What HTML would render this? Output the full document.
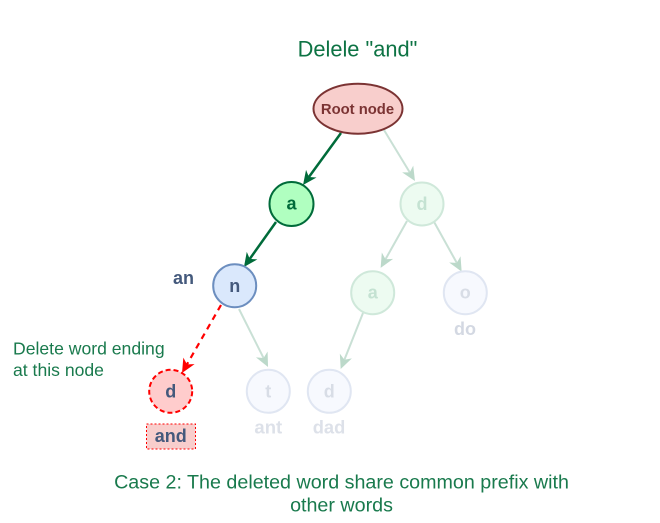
<!DOCTYPE html>
<html>
<head>
<meta charset="utf-8">
<style>
html,body{margin:0;padding:0;background:#fff;width:660px;height:523px;overflow:hidden}
svg{display:block}
text{font-family:"Liberation Sans",Arial,sans-serif}
.b{font-weight:bold;font-size:18px;text-anchor:middle}
.g{fill:#006b3a;fill-opacity:.9;font-size:17.600px}
</style>
</head>
<body>
<svg width="660" height="523" viewBox="0 0 660 523" xmlns="http://www.w3.org/2000/svg">
<defs>
<marker id="mf" markerUnits="userSpaceOnUse" viewBox="-13 -8 18 16" refX="0" refY="0" markerWidth="18" markerHeight="16" orient="auto"><path d="M3 0L-11 -6.500L-7 0L-11 6.500Z" fill="#bcd9ca"/></marker>
<marker id="mg" markerUnits="userSpaceOnUse" viewBox="-13 -8 18 16" refX="0" refY="0" markerWidth="18" markerHeight="16" orient="auto"><path d="M3 0L-11 -6.500L-7 0L-11 6.500Z" fill="#006b3a"/></marker>
<marker id="mr" markerUnits="userSpaceOnUse" viewBox="-13 -8 18 16" refX="0" refY="0" markerWidth="18" markerHeight="16" orient="auto"><path d="M3 0L-11 -6.500L-7 0L-11 6.500Z" fill="#ff0000"/></marker>
</defs>
<rect width="660" height="523" fill="#fff"/>
<text x="357.500" y="56.500" text-anchor="middle" font-size="21.800" fill="#006b3a" fill-opacity=".95">Delele "and"</text>

<!-- faded connectors -->
<g stroke="#c9e0d5" stroke-width="2" fill="none">
<path d="M384 130L413.400 178.400" marker-end="url(#mf)"/>
<path d="M407 221L382.100 265.300" marker-end="url(#mf)"/>
<path d="M433 220L460.200 269" marker-end="url(#mf)"/>
<path d="M239 309L266.700 364.300" marker-end="url(#mf)"/>
<path d="M363 313L341.800 366.200" marker-end="url(#mf)"/>
</g>

<!-- green connectors -->
<g stroke="#006b3a" stroke-width="2.500" fill="none">
<path d="M341 133L304.800 182.600" marker-end="url(#mg)"/>
<path d="M276 222L245.700 264.600" marker-end="url(#mg)"/>
</g>

<!-- red dashed -->
<path d="M221 305L183.500 370.400" stroke="#ff0000" stroke-width="2.200" stroke-dasharray="6 5" fill="none" marker-end="url(#mr)"/>

<!-- root -->
<ellipse cx="358" cy="108.700" rx="44.500" ry="25" fill="#f8cecc" stroke="#7b3333" stroke-width="2"/>
<text x="357.500" y="114" text-anchor="middle" font-weight="bold" font-size="14.800" fill="#7b3333">Root node</text>

<!-- a -->
<circle cx="291.500" cy="204" r="22" fill="#b0ffc0" stroke="#006b3a" stroke-width="2"/>
<text class="b" x="291.500" y="209.500" fill="#006b3a">a</text>

<!-- d faded -->
<circle cx="422" cy="204" r="21.500" fill="#edfbf1" stroke="#cfe8da" stroke-width="2"/>
<text class="b" x="422" y="210" fill="#c4e2d2">d</text>

<!-- n -->
<circle cx="234.700" cy="285.700" r="21.500" fill="#dae8fc" stroke="#6c8ebf" stroke-width="2"/>
<text class="b" x="234.700" y="291.800" fill="#44597c">n</text>
<text class="b" x="183.500" y="284" fill="#44597c">an</text>

<!-- a faded -->
<circle cx="372.700" cy="292.700" r="21.500" fill="#edfbf1" stroke="#cfe8da" stroke-width="2"/>
<text class="b" x="372.700" y="298.500" fill="#c4e2d2">a</text>

<!-- o -->
<circle cx="465.300" cy="292.700" r="21.500" fill="#f7f9fe" stroke="#e0e6f2" stroke-width="2"/>
<text class="b" x="465.300" y="298.500" fill="#d8dde6">o</text>
<text class="b" x="465" y="335" fill="#d3d8e2">do</text>

<!-- red d -->
<circle cx="170.700" cy="391.300" r="21.500" fill="#ffcccc" stroke="#ff0000" stroke-width="2" stroke-dasharray="5 3"/>
<text class="b" x="170.700" y="397.500" fill="#44597c">d</text>
<rect x="146.500" y="424" width="49" height="25" fill="#f8cecc" stroke="#ff0000" stroke-width="1" stroke-dasharray="2 2"/>
<text class="b" x="170.700" y="442" fill="#44597c" style="font-size:18px">and</text>

<!-- t -->
<circle cx="268.300" cy="391.300" r="21.500" fill="#f7f9fe" stroke="#e0e6f2" stroke-width="2"/>
<text class="b" x="268.300" y="397.500" fill="#d8dde6">t</text>
<text class="b" x="268.300" y="433.500" fill="#dde1e9" style="font-size:18.500px">ant</text>

<!-- d blue faded -->
<circle cx="329.300" cy="391.300" r="21.500" fill="#f7f9fe" stroke="#e0e6f2" stroke-width="2"/>
<text class="b" x="329.300" y="397.500" fill="#d8dde6">d</text>
<text class="b" x="329" y="433.500" fill="#dde1e9" style="font-size:18.300px">dad</text>

<text class="g" x="13" y="354.500">Delete word ending</text>
<text class="g" x="13" y="376">at this node</text>

<text x="341.500" y="488.500" text-anchor="middle" font-size="19.700" fill="#006b3a" fill-opacity=".9">Case 2: The deleted word share common prefix with</text>
<text x="341.500" y="511.500" text-anchor="middle" font-size="19.700" fill="#006b3a" fill-opacity=".9">other words</text>
</svg>
</body>
</html>
